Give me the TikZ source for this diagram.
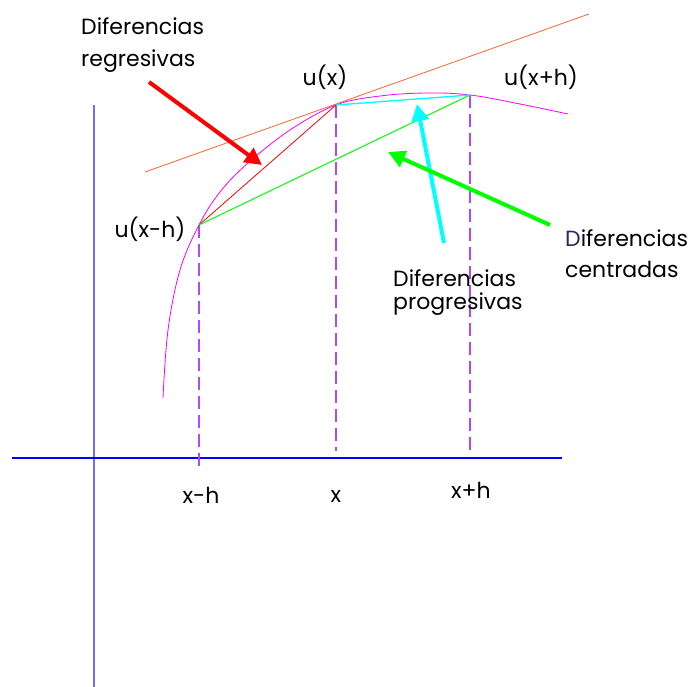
\documentclass[tikz,border=0pt]{standalone}
\usepackage{fontspec}
\setmainfont{Poppins}
\usetikzlibrary{arrows.meta}
\definecolor{axisblue}{RGB}{0,0,255}
\definecolor{axislight}{RGB}{110,110,255}
\definecolor{dashviolet}{RGB}{180,70,255}
\definecolor{curvemag}{RGB}{255,0,255}
\definecolor{tanorange}{RGB}{255,100,50}
\definecolor{navyD}{RGB}{40,40,90}
\definecolor{purecyan}{RGB}{0,255,255}
\definecolor{puregreen}{RGB}{0,255,0}
\definecolor{purered}{RGB}{255,0,0}
\begin{document}
\begin{tikzpicture}[x=1pt,y=-1pt,
  lbl/.style={font=\fontsize{22}{26}\selectfont, inner sep=0pt, anchor=base west},
  lblc/.style={font=\fontsize{22}{26}\selectfont, inner sep=0pt, anchor=base},
  guide/.style={dashviolet, line width=2pt, dash pattern=on 13pt off 6pt},
  chord/.style={line width=0.8pt},
  bigarrow/.style={line width=4pt, -{Triangle[length=17pt,width=17pt]}}]
\useasboundingbox (0,0) rectangle (694,687);
% points
\coordinate (P0) at (199,225);
\coordinate (P1) at (336,105);
\coordinate (P2) at (470,95);
% axes
\coordinate (yb) at (94,687);
\coordinate (yt) at (94,105);
\coordinate (xl) at (12,458);
\coordinate (xr) at (562,458);
\draw[axislight, line width=1.2pt] (yb) -- (yt);
\draw[axisblue, line width=1.2pt] (xl) -- (xr);
% guides
\coordinate (g0) at (199,466);
\coordinate (g1) at (336,451);
\coordinate (g2) at (470,452);
\draw[guide] (P0) -- (g0);
\draw[guide] (P1) -- (g1);
\draw[guide] (P2) -- (g2);
% curve
\draw[curvemag, line width=0.8pt] plot[smooth, tension=0.6] coordinates {(163,398) (168,330) (180,270) (P0) (220,192) (248,163) (290,130) (P1) (380,96) (427,93) (P2) (520,104) (568,114)};
% tangent
\coordinate (t0) at (145,172);
\coordinate (t1) at (589,14);
\draw[tanorange, line width=0.8pt] (t0) -- (t1);
% chords
\draw[chord, purered] (P0) -- (P1);
\draw[chord, puregreen, line width=1pt] (P0) -- (P2);
\draw[chord, purecyan, line width=1.3pt] (P1) -- (P2);
% labels
\node[lbl] (reg1) at (81,35) {Diferencias};
\node[lbl] (reg2) at (81,67) {regresivas};
\node[lbl] (cen1) at (565,247) {\textcolor{navyD}{D}iferencias};
\node[lbl] (cen2) at (565,278) {centradas};
\node[lbl] (pro1) at (393,287) {Diferencias};
\node[lbl] (pro2) at (393,310) {progresivas};
\node[lblc] (uP1) at (325,86) {u(x)};
\node[lblc] (uP2) at (541,86) {u(x+h)};
\node[lblc] (uP0) at (150,238) {u(x-h)};
\node[lblc] (xm) at (201,503) {x-h};
\node[lblc] (xc) at (336,502) {x};
\node[lblc] (xp) at (471,498) {x+h};
% arrows
\coordinate (ra0) at (149,82);
\coordinate (ra1) at (262,165);
\coordinate (ca0) at (444,243);
\coordinate (ca1) at (417,104);
\coordinate (ga0) at (550,225);
\coordinate (ga1) at (388,152);
\draw[bigarrow, purered] (ra0) -- (ra1);
\draw[bigarrow, purecyan] (ca0) -- (ca1);
\draw[bigarrow, puregreen] (ga0) -- (ga1);
\end{tikzpicture}
\end{document}
